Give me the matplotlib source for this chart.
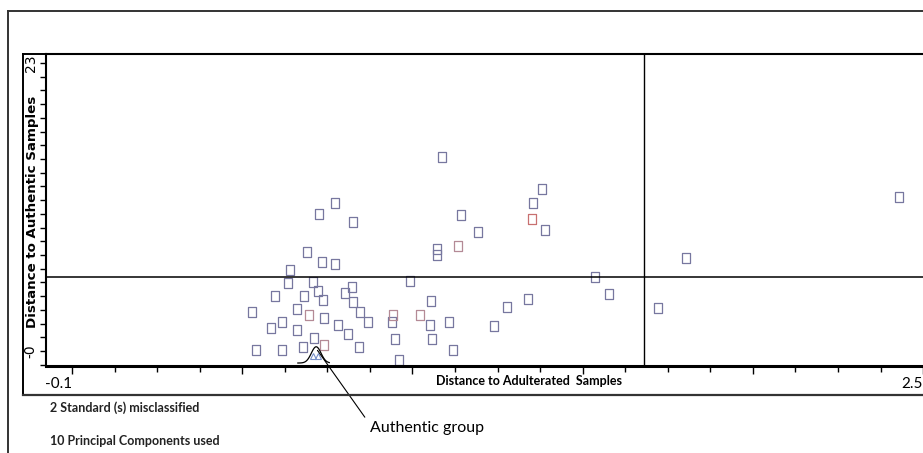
import matplotlib
matplotlib.use("Agg")
import matplotlib.pyplot as plt
import matplotlib.transforms as mtransforms
from matplotlib.path import Path
from matplotlib.lines import Line2D
import numpy as np

# Coomans-type plot: distance to adulterated (x) vs distance to authentic (y)
dist_adulterated = [1.030, 1.335, 1.309, 0.704, 0.655, 1.088, 0.758, 1.304, 1.345, 1.139,
                    1.014, 1.014, 1.080, 0.619, 0.664, 0.704, 0.566, 0.934, 1.498, 1.541,
                    0.637, 0.561, 0.608, 0.653, 0.667, 0.734, 0.756, 0.759, 0.780, 0.805,
                    0.625, 0.671, 0.712, 0.743, 0.640, 0.606, 0.670, 0.778, 0.882, 0.877,
                    0.887, 0.898, 0.964, 0.998, 0.993, 1.000, 1.052, 1.064, 1.189, 1.228,
                    1.292, 0.449, 0.461, 0.541, 0.508, 0.541, 0.520, 0.587, 0.587, 1.691,
                    1.776, 2.427]
dist_authentic = [15.47, 12.91, 11.84, 11.84, 10.94, 10.84, 10.33, 10.57, 9.66, 9.48,
                  8.12, 7.67, 8.39, 7.91, 7.11, 6.95, 6.47, 5.59, 5.91, 4.59,
                  5.51, 5.41, 4.39, 4.79, 4.05, 4.61, 5.15, 3.91, 3.11, 2.34,
                  2.85, 2.61, 2.04, 1.36, 1.04, 0.34, 0.44, 0.32, 2.87, 2.34,
                  0.93, -0.72, 2.85, 4.02, 2.04, 0.93, 2.34, 0.06, 1.97, 3.49,
                  4.13, 3.14, 0.04, 0.04, 1.80, 2.32, 4.43, 3.39, 1.68, 3.41,
                  7.40, 12.27]
# 0 = blue-grey, 1 = pinkish, 2 = red
sample_class = [0, 0, 0, 0, 0, 0, 0, 2, 0, 0,
                0, 0, 1, 0, 0, 0, 0, 0, 0, 0,
                0, 0, 0, 0, 0, 0, 0, 0, 0, 0,
                1, 0, 0, 0, 0, 0, 1, 0, 1, 0,
                0, 0, 1, 0, 0, 0, 0, 0, 0, 0,
                0, 0, 0, 0, 0, 0, 0, 0, 0, 0,
                0, 0]
# authentic standards (triangles)
std_adulterated = [0.636, 0.652]
std_authentic = [-0.40, -0.40]

crit_authentic = 5.9
crit_adulterated = 1.648

class_colors = {0: "#77779f", 1: "#b48a96", 2: "#c87070"}
narrow = ["Lato", "DejaVu Sans"]

W, H = 923, 453
fig = plt.figure(figsize=(W / 100, H / 100), dpi=100)
fig.patch.set_facecolor("white")

# axes placed in pixel terms
ax = fig.add_axes([46 / W, (H - 366) / H, (926 - 46) / W, (366 - 54) / H])

rect = Path([(-0.35, -0.5), (0.35, -0.5), (0.35, 0.5), (-0.35, 0.5), (-0.35, -0.5)],
            [Path.MOVETO, Path.LINETO, Path.LINETO, Path.LINETO, Path.CLOSEPOLY])

xs = np.array(dist_adulterated)
ys = np.array(dist_authentic)
cls = np.array(sample_class)
for c, col in class_colors.items():
    m = cls == c
    ax.plot(xs[m], ys[m], linestyle="none", marker=rect, markersize=7.4,
            markerfacecolor="none", markeredgecolor=col, markeredgewidth=0.9)

ax.plot(std_adulterated, std_authentic, linestyle="none", marker="^", markersize=4.5,
        markerfacecolor="none", markeredgecolor="#7890c8", markeredgewidth=0.8)

ax.axhline(crit_authentic, color="black", lw=1.1)
ax.axvline(crit_adulterated, color="black", lw=1.0)

ax.set_xlim(-0.1794, 2.509)
ax.set_ylim(-1.198, 23.72)

# ticks
step_x = 0.13
ax.set_xticks([-0.1 + 4 * step_x * i for i in range(6)])
ax.set_xticks([-0.1 + step_x * i for i in range(21)], minor=True)
ax.set_xticklabels(["-0.1", "", "", "", "", "2.5"], family=narrow, fontsize=11, ha="right")
shift = mtransforms.ScaledTranslation(-4 / 100, 0, fig.dpi_scale_trans)
for lab in ax.get_xticklabels():
    lab.set_transform(lab.get_transform() + shift)
step_y = 23 / 21
ax.set_yticks([0, 23])
ax.set_yticks([step_y * i for i in range(-1, 22)], minor=True)
ax.set_yticklabels(["-0", "23"], fontsize=10, rotation=90, va="center")
ax.tick_params(axis="x", which="major", length=6, width=1, direction="out", pad=2)
ax.tick_params(axis="x", which="minor", length=4, width=1, direction="out")
ax.tick_params(axis="y", which="both", length=4, width=1, direction="out", pad=2)

for s in ["top", "left"]:
    ax.spines[s].set_linewidth(1.5)
ax.spines["bottom"].set_linewidth(2.2)
ax.spines["right"].set_visible(False)

ax.set_xlabel("Distance to Adulterated  Samples", family=narrow, fontweight="bold",
              fontsize=9)
ax.xaxis.set_label_coords((529 - 46) / 880, -(381 - 366) / 312)
ax.xaxis.label.set_va("center")
ax.set_ylabel("Distance to Authentic Samples", fontweight="bold", fontsize=9.6)
ax.yaxis.set_label_coords(-(46 - 33) / 880, (H - 212 - 87) / 312)
ax.yaxis.label.set_va("center")

# hump drawn around the authentic standards
hx = np.linspace(0.590, 0.686, 40)
hy = -0.96 + 1.3 * np.exp(-((hx - 0.646) / 0.021) ** 2)
ax.plot(hx, hy, color="black", lw=0.9, clip_on=False)

ax.annotate("Authentic group", xy=(0.650, 0.05), xycoords="data",
            xytext=(370 / W, (H - 428) / H), textcoords="figure fraction",
            fontsize=11.5, family=narrow, va="center", ha="left",
            arrowprops=dict(arrowstyle="-", lw=0.8, color="black",
                            relpos=(0, 0.75), shrinkA=3, shrinkB=0))

fig.text(50 / W, (H - 408) / H, "2 Standard (s) misclassified", family=narrow,
         fontsize=9, fontweight="bold", va="center", color="#222222")
fig.text(50 / W, (H - 441) / H, "10 Principal Components used", family=narrow,
         fontsize=9, fontweight="bold", va="center", color="#222222")

# frames around the plot
def fig_line(x0, y0, x1, y1, lw, color="black"):
    fig.add_artist(Line2D([x0 / W, x1 / W], [(H - y0) / H, (H - y1) / H],
                          transform=fig.transFigure, lw=lw, color=color))

fig_line(8, 11, 8, H + 2, 1.4, "#333333")
fig_line(8, 11, W + 2, 11, 1.4, "#333333")
fig_line(23, 54, 23, 395, 1.4)
fig_line(23, 54, 46, 54, 1.4)
fig_line(23, 395, W + 2, 395, 1.6, "#333333")

fig.savefig("out.png", dpi=100)
